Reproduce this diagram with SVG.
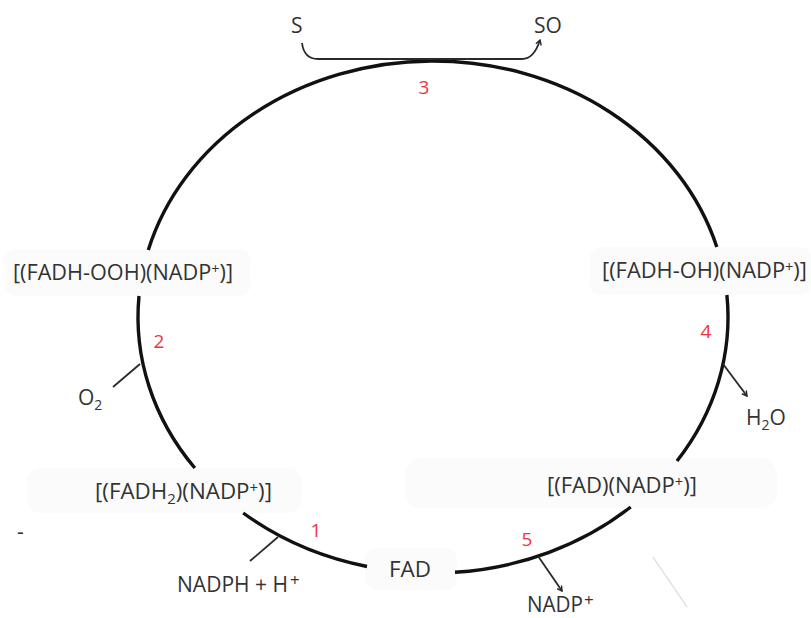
<svg xmlns="http://www.w3.org/2000/svg" width="811" height="618" viewBox="0 0 811 618">
<style>
.lbl{font-family:"Open Sans","Liberation Sans",sans-serif;font-size:21px;fill:#333}
.num{font-family:"Open Sans","Liberation Sans",sans-serif;font-size:19px;fill:#f2333f;text-anchor:middle}
.bg{fill:#fbfbfb}
.cyc{fill:none;stroke:#111;stroke-width:3.4;stroke-linecap:butt}
.thin{fill:none;stroke:#2a2a2a;stroke-width:1.8}
</style>
<defs>
<marker id="ah" viewBox="0 0 10 10" refX="8" refY="5" markerWidth="7" markerHeight="7" orient="auto" markerUnits="userSpaceOnUse">
<path d="M1,1 L8,5 L1,9" fill="none" stroke="#2a2a2a" stroke-width="2"/>
</marker>
</defs>
<rect width="811" height="618" fill="#fff"/>
<g id="backgrounds">
<rect class="bg" x="5" y="249" width="245" height="47" rx="10"/>
<rect class="bg" x="590" y="247" width="221" height="48" rx="10"/>
<rect class="bg" x="27" y="468" width="275" height="45" rx="14"/>
<rect class="bg" x="405" y="458" width="372" height="50" rx="16"/>
<rect class="bg" x="365" y="548" width="92" height="42" rx="12"/>
</g>
<g id="connectors">
<path class="cyc" d="M148.3,250 A295,256 0 0 1 716.8,247"/>
<path class="cyc" d="M726.9,295 A295,256 0 0 1 677,461"/>
<path class="cyc" d="M630.7,507 A295,256 0 0 1 455,572.3"/>
<path class="cyc" d="M367,566.5 A295,256 0 0 1 243.2,513"/>
<path class="cyc" d="M194.8,468 A295,256 0 0 1 139,296"/>
<path class="thin" d="M302,43 Q304,59 318,59 L522,59 Q534,59 540,40" marker-end="url(#ah)"/>
<line class="thin" x1="113" y1="387" x2="140" y2="364" stroke-width="2"/>
<line class="thin" x1="250" y1="561" x2="278" y2="537" stroke-width="2"/>
<line class="thin" x1="723" y1="364" x2="747" y2="396" marker-end="url(#ah)"/>
<line class="thin" x1="538" y1="556" x2="562" y2="591" marker-end="url(#ah)"/>
<line x1="653" y1="557" x2="687" y2="607" stroke="#d8d8d8" stroke-width="1.2"/>
</g>
<g id="n-S"><text class="lbl" x="291" y="33">S</text></g>
<g id="n-SO"><text class="lbl" x="534" y="33">SO</text></g>
<g id="n-FADH-OOH"><text class="lbl" x="13" y="280" textLength="220" lengthAdjust="spacingAndGlyphs">[(FADH-OOH)(NADP<tspan font-size="14" dy="-6">+</tspan><tspan dy="6">)]</tspan></text></g>
<g id="n-FADH-OH"><text class="lbl" x="602" y="278" textLength="205" lengthAdjust="spacingAndGlyphs">[(FADH-OH)(NADP<tspan font-size="14" dy="-6">+</tspan><tspan dy="6">)]</tspan></text></g>
<g id="n-FADH2"><text class="lbl" x="95" y="499" textLength="177" lengthAdjust="spacingAndGlyphs">[(FADH<tspan font-size="14" dy="5">2</tspan><tspan dy="-5">)(NADP</tspan><tspan font-size="14" dy="-6">+</tspan><tspan dy="6">)]</tspan></text></g>
<g id="n-FAD-NADP"><text class="lbl" x="547" y="493" textLength="150" lengthAdjust="spacingAndGlyphs">[(FAD)(NADP<tspan font-size="14" dy="-6">+</tspan><tspan dy="6">)]</tspan></text></g>
<g id="n-FAD"><text class="lbl" x="389" y="577" textLength="42" lengthAdjust="spacingAndGlyphs">FAD</text></g>
<g id="n-O2"><text class="lbl" x="78" y="405">O<tspan font-size="14" dy="5">2</tspan></text></g>
<g id="n-H2O"><text class="lbl" x="746" y="425">H<tspan font-size="14" dy="5">2</tspan><tspan dy="-5">O</tspan></text></g>
<g id="n-NADPH"><text class="lbl" x="177" y="592"><tspan textLength="111" lengthAdjust="spacingAndGlyphs">NADPH + H</tspan><tspan font-size="17" dy="-6" dx="2">+</tspan></text></g>
<g id="n-NADP"><text class="lbl" x="527" y="612"><tspan textLength="56" lengthAdjust="spacingAndGlyphs">NADP</tspan><tspan font-size="17" dy="-6" dx="1">+</tspan></text></g>
<g id="n-dash"><text class="lbl" x="17" y="539" font-size="14">-</text></g>
<g id="steps">
<text class="num" x="424" y="94">3</text>
<text class="num" x="159" y="348">2</text>
<text class="num" x="706" y="338">4</text>
<text class="num" x="316" y="537">1</text>
<text class="num" x="527" y="546">5</text>
</g>
</svg>
